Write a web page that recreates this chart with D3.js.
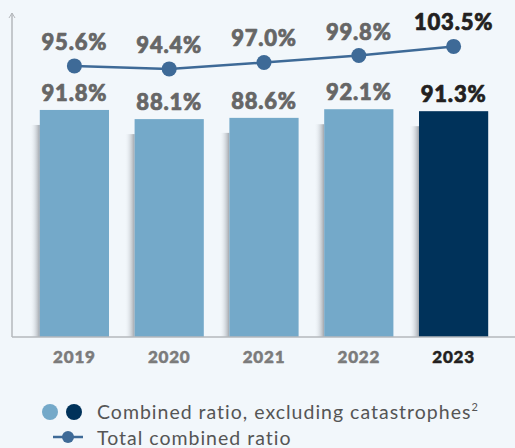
<!DOCTYPE html>
<html>
<head>
<meta charset="utf-8">
<script src="https://cdn.jsdelivr.net/npm/d3@7"></script>
<style>
  body { margin: 0; background: #f2f7fb; }
  svg { display: block; }
</style>
</head>
<body>
<div id="chart"></div>
<script>
// data
const years = ["2019", "2020", "2021", "2022", "2023"];
const exCatRatio = [91.8, 88.1, 88.6, 92.1, 91.3];
const totalRatio = [95.6, 94.4, 97.0, 99.8, 103.5];
const legendLabels = ["Combined ratio, excluding catastrophes", "Total combined ratio"];

const W = 515, H = 448;
const baseY = 337, topY = 13, axisX = 12;

const svg = d3.select("#chart").append("svg")
    .attr("width", W)
    .attr("height", H);

svg.append("rect").attr("width", W).attr("height", H).attr("fill", "#f2f7fb");

// shadow gradient on the left of bars
let defs = svg.append("defs");
let grad = defs.append("linearGradient").attr("id", "shadow").attr("x1", 0).attr("x2", 1);
grad.append("stop").attr("offset", "0%").attr("stop-color", "#f2f7fb").attr("stop-opacity", 0);
grad.append("stop").attr("offset", "100%").attr("stop-color", "#8a8f96").attr("stop-opacity", 0.8);

// scales
const x = d3.scaleBand()
    .domain(years)
    .range([27, 501])
    .paddingInner(0.27)
    .paddingOuter(0.135);

const y = d3.scaleLinear()
    .domain([0, 131])
    .range([baseY, topY]);

// line sits on its own offset scale above the bars
const yLine = d3.scaleLinear()
    .domain([-14, 117])
    .range([baseY, topY]);

const lightBlue = "#74a9c9", darkBlue = "#00325a", lineColor = "#3e6a97";
const grayText = "#666666", darkText = "#231f20";
const isLast = i => i === years.length - 1;

// shadows
svg.append("g").selectAll("rect")
    .data(exCatRatio)
    .enter().append("rect")
    .attr("x", (d, i) => x(years[i]) - 10)
    .attr("y", d => y(d) + 15)
    .attr("width", 10)
    .attr("height", d => baseY - y(d) - 15)
    .attr("fill", "url(#shadow)");

// bars
svg.append("g").selectAll("rect")
    .data(exCatRatio)
    .enter().append("rect")
    .attr("x", (d, i) => x(years[i]))
    .attr("y", d => y(d))
    .attr("width", x.bandwidth())
    .attr("height", d => baseY - y(d))
    .attr("fill", (d, i) => isLast(i) ? darkBlue : lightBlue);

// axes lines
svg.append("line")
    .attr("x1", axisX).attr("x2", axisX)
    .attr("y1", topY).attr("y2", baseY)
    .attr("stroke", "#b5b8bc").attr("stroke-width", 1.5);
svg.append("path")
    .attr("d", `M${axisX - 3},${topY + 5} L${axisX},${topY} L${axisX + 3},${topY + 5}`)
    .attr("fill", "none").attr("stroke", "#b5b8bc").attr("stroke-width", 1);
svg.append("line")
    .attr("x1", axisX).attr("x2", W)
    .attr("y1", baseY).attr("y2", baseY)
    .attr("stroke", "#b5b8bc").attr("stroke-width", 1.5);

// heavy label helper (stroke thickens the bold face)
function heavy(sel, size, fillFn) {
    sel.attr("text-anchor", "middle")
        .attr("font-family", "Lato, sans-serif")
        .attr("font-weight", 900)
        .attr("font-size", size)
        .attr("letter-spacing", 0.8)
        .attr("fill", fillFn)
        .attr("stroke", fillFn)
        .attr("stroke-width", 0.7)
        .attr("stroke-linejoin", "round");
}

// bar labels
svg.append("g").selectAll("text")
    .data(exCatRatio)
    .enter().append("text")
    .attr("x", (d, i) => x(years[i]) + x.bandwidth() / 2)
    .attr("y", d => y(d) - 9)
    .call(heavy, 22, (d, i) => isLast(i) ? darkText : grayText)
    .text(d => d.toFixed(1) + "%");

// total combined ratio line
const line = d3.line()
    .x((d, i) => x(years[i]) + x.bandwidth() / 2)
    .y(d => yLine(d));

svg.append("path")
    .datum(totalRatio)
    .attr("d", line)
    .attr("fill", "none")
    .attr("stroke", lineColor)
    .attr("stroke-width", 2.5);

svg.append("g").selectAll("circle")
    .data(totalRatio)
    .enter().append("circle")
    .attr("cx", (d, i) => x(years[i]) + x.bandwidth() / 2)
    .attr("cy", d => yLine(d))
    .attr("r", 7.5)
    .attr("fill", lineColor);

svg.append("g").selectAll("text")
    .data(totalRatio)
    .enter().append("text")
    .attr("x", (d, i) => x(years[i]) + x.bandwidth() / 2)
    .attr("y", d => yLine(d) - 16)
    .call(heavy, 22, (d, i) => isLast(i) ? darkText : grayText)
    .text(d => d.toFixed(1) + "%");

// x labels
svg.append("g").selectAll("text")
    .data(years)
    .enter().append("text")
    .attr("x", d => x(d) + x.bandwidth() / 2)
    .attr("y", 363)
    .call(heavy, 17, (d, i) => isLast(i) ? darkText : "#7b7b7b")
    .attr("stroke-width", 0.5)
    .text(d => d);

// legend
let lg = svg.append("g");
lg.append("circle").attr("cx", 50).attr("cy", 412).attr("r", 8).attr("fill", lightBlue);
lg.append("circle").attr("cx", 74).attr("cy", 412).attr("r", 8).attr("fill", darkBlue);
let t1 = lg.append("text")
    .attr("x", 97).attr("y", 419)
    .attr("font-family", "Lato, sans-serif")
    .attr("font-size", 19.5)
    .attr("letter-spacing", 1.0)
    .attr("fill", "#555");
t1.append("tspan").text(legendLabels[0]);
t1.append("tspan").attr("dy", -8).attr("font-size", 11).text("2");

lg.append("line").attr("x1", 53).attr("x2", 83).attr("y1", 437).attr("y2", 437)
    .attr("stroke", lineColor).attr("stroke-width", 2.5);
lg.append("circle").attr("cx", 68).attr("cy", 437).attr("r", 6).attr("fill", lineColor);
lg.append("text")
    .attr("x", 97).attr("y", 445)
    .attr("font-family", "Lato, sans-serif")
    .attr("font-size", 19.5)
    .attr("letter-spacing", 1.0)
    .attr("fill", "#555")
    .text(legendLabels[1]);
</script>
</body>
</html>
